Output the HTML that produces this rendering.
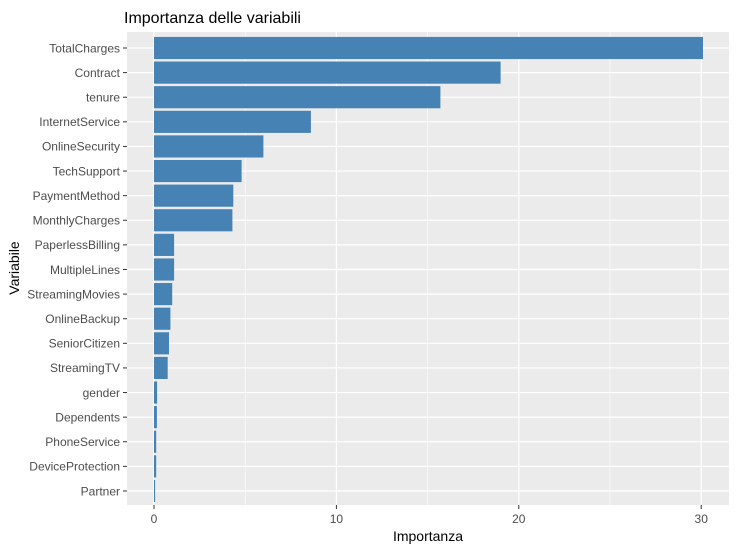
<!DOCTYPE html>
<html><head><style>body{margin:0;background:#fff}svg{display:block}</style></head><body>
<svg width="738" height="550" xmlns="http://www.w3.org/2000/svg" font-family="Liberation Sans, Arial, sans-serif">
<rect width="738" height="550" fill="#fff"/>
<rect x="127" y="32" width="602" height="473" fill="#ebebeb"/>
<g stroke="#fff" stroke-width="0.6">
<line x1="245.2" y1="32" x2="245.2" y2="505"/><line x1="427.6" y1="32" x2="427.6" y2="505"/><line x1="610" y1="32" x2="610" y2="505"/>
</g>
<g stroke="#fff" stroke-width="1.2">
<line x1="154" y1="32" x2="154" y2="505"/><line x1="336.4" y1="32" x2="336.4" y2="505"/><line x1="518.8" y1="32" x2="518.8" y2="505"/><line x1="701.2" y1="32" x2="701.2" y2="505"/>
<line x1="127" x2="729" y1="48" y2="48"/><line x1="127" x2="729" y1="72.61" y2="72.61"/><line x1="127" x2="729" y1="97.22" y2="97.22"/><line x1="127" x2="729" y1="121.83" y2="121.83"/><line x1="127" x2="729" y1="146.44" y2="146.44"/><line x1="127" x2="729" y1="171.05" y2="171.05"/><line x1="127" x2="729" y1="195.66" y2="195.66"/><line x1="127" x2="729" y1="220.27" y2="220.27"/><line x1="127" x2="729" y1="244.88" y2="244.88"/><line x1="127" x2="729" y1="269.49" y2="269.49"/><line x1="127" x2="729" y1="294.1" y2="294.1"/><line x1="127" x2="729" y1="318.71" y2="318.71"/><line x1="127" x2="729" y1="343.32" y2="343.32"/><line x1="127" x2="729" y1="367.93" y2="367.93"/><line x1="127" x2="729" y1="392.54" y2="392.54"/><line x1="127" x2="729" y1="417.15" y2="417.15"/><line x1="127" x2="729" y1="441.76" y2="441.76"/><line x1="127" x2="729" y1="466.37" y2="466.37"/><line x1="127" x2="729" y1="490.98" y2="490.98"/>
</g>
<g fill="#4682b4">
<rect x="154" y="36.93" width="549" height="22.14"/>
<rect x="154" y="61.54" width="346.6" height="22.14"/>
<rect x="154" y="86.15" width="286.4" height="22.14"/>
<rect x="154" y="110.76" width="156.9" height="22.14"/>
<rect x="154" y="135.37" width="109.4" height="22.14"/>
<rect x="154" y="159.98" width="87.6" height="22.14"/>
<rect x="154" y="184.59" width="79.3" height="22.14"/>
<rect x="154" y="209.2" width="78.4" height="22.14"/>
<rect x="154" y="233.81" width="20.1" height="22.14"/>
<rect x="154" y="258.42" width="20.1" height="22.14"/>
<rect x="154" y="283.03" width="18.2" height="22.14"/>
<rect x="154" y="307.64" width="16.4" height="22.14"/>
<rect x="154" y="332.25" width="15" height="22.14"/>
<rect x="154" y="356.86" width="13.7" height="22.14"/>
<rect x="154" y="381.47" width="3.1" height="22.14"/>
<rect x="154" y="406.08" width="2.9" height="22.14"/>
<rect x="154" y="430.69" width="2.2" height="22.14"/>
<rect x="154" y="455.3" width="2.2" height="22.14"/>
<rect x="154" y="479.91" width="1.1" height="22.14"/>
</g>
<g stroke="#333" stroke-width="1">
<line x1="123" x2="127" y1="48" y2="48"/><line x1="123" x2="127" y1="72.61" y2="72.61"/><line x1="123" x2="127" y1="97.22" y2="97.22"/><line x1="123" x2="127" y1="121.83" y2="121.83"/><line x1="123" x2="127" y1="146.44" y2="146.44"/><line x1="123" x2="127" y1="171.05" y2="171.05"/><line x1="123" x2="127" y1="195.66" y2="195.66"/><line x1="123" x2="127" y1="220.27" y2="220.27"/><line x1="123" x2="127" y1="244.88" y2="244.88"/><line x1="123" x2="127" y1="269.49" y2="269.49"/><line x1="123" x2="127" y1="294.1" y2="294.1"/><line x1="123" x2="127" y1="318.71" y2="318.71"/><line x1="123" x2="127" y1="343.32" y2="343.32"/><line x1="123" x2="127" y1="367.93" y2="367.93"/><line x1="123" x2="127" y1="392.54" y2="392.54"/><line x1="123" x2="127" y1="417.15" y2="417.15"/><line x1="123" x2="127" y1="441.76" y2="441.76"/><line x1="123" x2="127" y1="466.37" y2="466.37"/><line x1="123" x2="127" y1="490.98" y2="490.98"/>
<line x1="154" y1="505" x2="154" y2="509"/><line x1="336.4" y1="505" x2="336.4" y2="509"/><line x1="518.8" y1="505" x2="518.8" y2="509"/><line x1="701.2" y1="505" x2="701.2" y2="509"/>
</g>
<g font-size="12" fill="#4d4d4d" text-anchor="end">
<text x="120" y="52.3">TotalCharges</text>
<text x="120" y="76.9">Contract</text>
<text x="120" y="101.5">tenure</text>
<text x="120" y="126.1">InternetService</text>
<text x="120" y="150.7">OnlineSecurity</text>
<text x="120" y="175.4">TechSupport</text>
<text x="120" y="200">PaymentMethod</text>
<text x="120" y="224.6">MonthlyCharges</text>
<text x="120" y="249.2">PaperlessBilling</text>
<text x="120" y="273.8">MultipleLines</text>
<text x="120" y="298.4">StreamingMovies</text>
<text x="120" y="323">OnlineBackup</text>
<text x="120" y="347.6">SeniorCitizen</text>
<text x="120" y="372.2">StreamingTV</text>
<text x="120" y="396.8">gender</text>
<text x="120" y="421.5">Dependents</text>
<text x="120" y="446.1">PhoneService</text>
<text x="120" y="470.7">DeviceProtection</text>
<text x="120" y="495.3">Partner</text>
</g>
<text x="124" y="23" font-size="16" fill="#000">Importanza delle variabili</text>
<g font-size="12" fill="#4d4d4d" text-anchor="middle">
<text x="154" y="523">0</text><text x="336.4" y="523">10</text><text x="518.8" y="523">20</text><text x="701.2" y="523">30</text>
</g>
<text x="428" y="541" font-size="14" text-anchor="middle" fill="#000">Importanza</text>
<text transform="translate(19,268) rotate(-90)" font-size="14" text-anchor="middle" fill="#000">Variabile</text>
</svg>
</body></html>
